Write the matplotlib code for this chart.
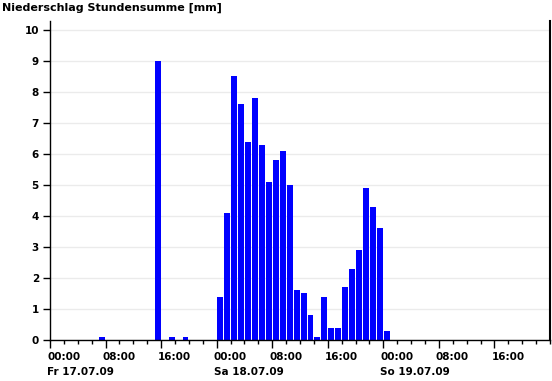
import matplotlib
matplotlib.use("Agg")
import matplotlib.pyplot as plt
import matplotlib.dates as mdates
import matplotlib.transforms as mtransforms
import pandas as pd

plt.rcParams['font.family'] = ['DejaVu Sans']
plt.rcParams['font.weight'] = 'bold'
plt.rcParams['font.size'] = 7.5

# hourly sums [mm], 00-01, 01-02, ... for each day
fr_17 = [0, 0, 0, 0, 0, 0, 0, 0.1, 0, 0, 0, 0,
         0, 0, 0, 9.0, 0, 0.1, 0, 0.1, 0, 0, 0, 0]
sa_18 = [1.4, 4.1, 8.5, 7.6, 6.4, 7.8, 6.3, 5.1, 5.8, 6.1, 5.0, 1.6,
         1.5, 0.8, 0.1, 1.4, 0.4, 0.4, 1.7, 2.3, 2.9, 4.9, 4.3, 3.6]
so_19 = [0.3, 0, 0, 0, 0, 0, 0, 0, 0, 0, 0, 0,
         0, 0, 0, 0, 0, 0, 0, 0, 0, 0, 0, 0]
values = fr_17 + sa_18 + so_19
hours = pd.date_range('2009-07-17 00:00', periods=len(values), freq='h')
major_ticks = pd.date_range('2009-07-17 00:00', '2009-07-19 16:00', freq='8h')
day_starts = pd.to_datetime(['2009-07-17', '2009-07-18', '2009-07-19'])
day_labels = ['Fr 17.07.09', 'Sa 18.07.09', 'So 19.07.09']

fig = plt.figure(figsize=(5.52, 3.81), dpi=100)
ax = fig.add_axes([50 / 552, 41 / 381, 500 / 552, 319 / 381])

hour = 1 / 24
ax.bar(mdates.date2num(hours) + 0.08 * hour, values, width=0.86 * hour,
       align='edge', color='#0000ff', zorder=2)

ax.set_xlim(mdates.date2num(pd.Timestamp('2009-07-17')),
            mdates.date2num(pd.Timestamp('2009-07-20')))
ax.set_ylim(0, 10.29)
ax.set_yticks(range(0, 11))
ax.yaxis.grid(True, color='#ebebeb', linewidth=1, zorder=0)

ax.set_xticks(mdates.date2num(major_ticks))
ax.xaxis.set_minor_locator(mdates.HourLocator(interval=2))
ax.xaxis.set_major_formatter(mdates.DateFormatter('%H:%M'))
ax.tick_params(axis='x', which='major', length=6, width=1, pad=3)
ax.tick_params(axis='x', which='minor', length=3, width=1)
ax.tick_params(axis='y', length=5, width=1, pad=3)

shift = mtransforms.ScaledTranslation(-3 / 100, 0, fig.dpi_scale_trans)
for lab in ax.get_xticklabels():
    lab.set_horizontalalignment('left')
    lab.set_transform(lab.get_transform() + shift)

for d, txt in zip(day_starts, day_labels):
    ax.annotate(txt, xy=(mdates.date2num(d), 0),
                xycoords=('data', 'axes fraction'),
                xytext=(-3, -27), textcoords='offset pixels',
                ha='left', va='top', annotation_clip=False)

ax.spines['top'].set_visible(False)
ax.spines['right'].set_linewidth(1.5)
ax.spines['left'].set_linewidth(1)
ax.spines['bottom'].set_linewidth(1)

fig.text(2 / 552, 1 - 3 / 381, 'Niederschlag Stundensumme [mm]',
         ha='left', va='top', fontsize=8)

fig.savefig('out.png', dpi=100)
